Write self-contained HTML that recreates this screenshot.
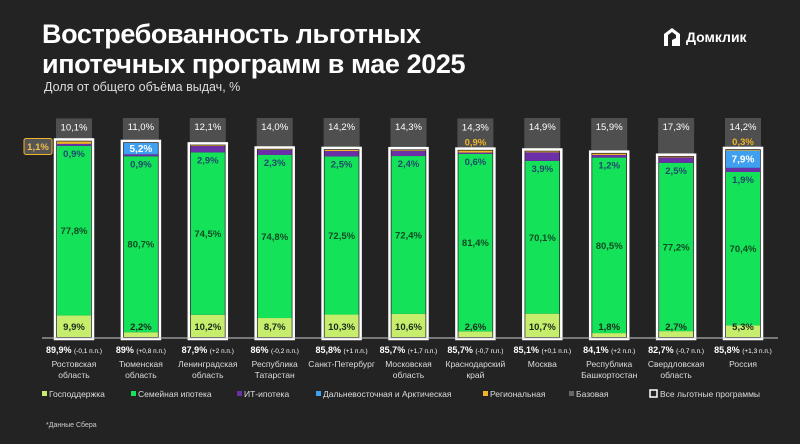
<!DOCTYPE html>
<html><head><meta charset="utf-8">
<style>
html,body{margin:0;padding:0;background:#232323;}
body{width:800px;height:444px;overflow:hidden;position:relative;font-family:"Liberation Sans","DejaVu Sans",sans-serif;color:#fff;}
.t{position:absolute;left:42px;top:19px;font-size:27px;font-weight:bold;line-height:30px;letter-spacing:-0.4px;}
.s{position:absolute;left:44px;top:80px;font-size:12.5px;color:#ddd;}
.logo{position:absolute;left:662px;top:26px;font-size:14px;font-weight:bold;display:flex;align-items:center;gap:4px;}
</style></head><body>
<div class="t">Востребованность льготных<br>ипотечных программ в мае 2025</div>
<div class="s">Доля от общего объёма выдач, %</div>
<div class="logo"><svg width="20" height="22" viewBox="0 0 20 22"><path d="M2 8 L10 2 L18 8 L18 20 L10 20 L10 14 L14 12 L14 9 L10 6 L6 9 L6 20 L2 20 Z" fill="#fff"/></svg>Домклик</div>
<svg id="chart" width="800" height="444" style="position:absolute;left:0;top:0"></svg>
<script>
const regions=[["Ростовская","область"],["Тюменская","область"],["Ленинградская","область"],["Республика","Татарстан"],["Санкт-Петербург",""],["Московская","область"],["Краснодарский","край"],["Москва",""],["Республика","Башкортостан"],["Свердловская","область"],["Россия",""]];
const totals=["89,9%","89%","87,9%","86%","85,8%","85,7%","85,7%","85,1%","84,1%","82,7%","85,8%"];
const changes=["(-0,1 п.п.)","(+0,8 п.п.)","(+2 п.п.)","(-0,2 п.п.)","(+1 п.п.)","(+1,7 п.п.)","(-0,7 п.п.)","(+0,1 п.п.)","(+2 п.п.)","(-0,7 п.п.)","(+1,3 п.п.)"];
const gos=[9.9,2.2,10.2,8.7,10.3,10.6,2.6,10.7,1.8,2.7,5.3];
const family=[77.8,80.7,74.5,74.8,72.5,72.4,81.4,70.1,80.5,77.2,70.4];
const itm=[0.9,0.9,2.9,2.3,2.5,2.4,0.6,3.9,1.2,2.5,1.9];
const fareast=[0,5.2,0,0,0,0,0,0,0,0,7.9];
const regional=[1.1,0,0.3,0.2,0.5,0.3,0.9,0.4,0.6,0.3,0.3];
const base=[10.1,11.0,12.1,14.0,14.2,14.3,14.3,14.9,15.9,17.3,14.2];
const showReg=[true,false,false,false,false,false,true,false,false,false,true];
const fmt=v=>v.toFixed(1).replace('.',',')+'%';
const svg=document.getElementById('chart');
const NS='http://www.w3.org/2000/svg';
const y0=337, k=2.18, x0=74, dx=66.9, bw=34;
const X=i=>x0+i*dx, Y=v=>y0-v*k;
function el(t,a,txt){const e=document.createElementNS(NS,t);for(const n in a)e.setAttribute(n,a[n]);if(txt!==undefined)e.textContent=txt;svg.appendChild(e);return e;}
function rect(x,y,w,h,f,name){const r=el('rect',{x:x,y:y,width:w,height:Math.max(h,0),fill:f});return r;}
function txt(x,y,s,opt,name){const t=el('text',Object.assign({x:x,y:y,'text-anchor':'middle','font-size':9.5,'font-weight':'bold',fill:'#fff','font-family':'Liberation Sans, DejaVu Sans, sans-serif'},opt),s);return t;}
const cols={gos:'#c6ee6c',fam:'#14e35a',it:'#6b2fa8',fe:'#3f9ff0',reg:'#f2b42a',base:'#4f4f4f'};
for(let i=0;i<regions.length;i++){
  const cx=X(i), l=cx-bw/2;
  let acc=0;
  const segs=[[gos[i],cols.gos,'gos'],[family[i],cols.fam,'family'],[itm[i],cols.it,'it'],[fareast[i],cols.fe,'fareast'],[regional[i],cols.reg,'regional']];
  const pos={};
  for(const [v,c,n] of segs){pos[n]=[Y(acc+v),Y(acc)];if(v>0)rect(l,Y(acc+v),bw,v*k,c,'bar-'+n+'-'+i);acc+=v;}
  const lg=acc;
  const bt=Y(lg+base[i])-1;
  rect(l-1,bt,bw+2,Y(lg)-bt-3,cols.base,'bar-base-'+i);
  txt(cx,bt+12,fmt(base[i]),{'font-weight':'normal','font-size':9.5},'label-base-'+i);
  const ob=el('rect',{x:l-2,y:Y(lg)-2,width:bw+4,height:lg*k+4,fill:'none',stroke:'#fff','stroke-width':2.5});
  
  txt(cx,y0-7,fmt(gos[i]),{fill:'#1c2a1c'},'label-gos-'+i);
  txt(cx,(pos.family[0]+pos.family[1])/2+3.5,fmt(family[i]),{fill:'#124a22'},'label-family-'+i);
  txt(cx,pos.it[1]+11,fmt(itm[i]),{fill:'#1f4a6a'},'label-it-'+i);
  if(fareast[i]>0)txt(cx,(pos.fareast[0]+pos.fareast[1])/2+3.5,fmt(fareast[i]),{'font-size':10},'label-fareast-'+i);
  if(showReg[i]){
    if(i===0){
      const cb=el('rect',{x:24,y:Y(lg)-3,width:28,height:16,rx:2,fill:'#555',stroke:'#f2b42a','stroke-width':1});
      
      txt(38,Y(lg)+8.5,fmt(regional[i]),{fill:'#f2c04a'},'label-regional-'+i);
    } else txt(cx,Y(lg)-5,fmt(regional[i]),{fill:'#f2b42a'},'label-regional-'+i);
  }
  const tl=txt(cx,353,'',{'font-size':9},'total-label-'+i);
  const a=document.createElementNS(NS,'tspan');a.textContent=totals[i]+' ';tl.appendChild(a);
  const b=document.createElementNS(NS,'tspan');b.setAttribute('font-size','6.5');b.setAttribute('font-weight','normal');b.textContent=changes[i];tl.appendChild(b);
  txt(cx,367,regions[i][0],{'font-weight':'normal','font-size':8.5,fill:'#ddd'},'region-name-'+i);
  if(regions[i][1])txt(cx,378,regions[i][1],{'font-weight':'normal','font-size':8.5,fill:'#ddd'},'region-name2-'+i);
}
const ax=el('line',{x1:42,y1:y0+1,x2:778,y2:y0+1,stroke:'#ccc','stroke-width':1});

const leg=[['Господдержка',cols.gos,42],['Семейная ипотека',cols.fam,131],['ИТ-ипотека',cols.it,237],['Дальневосточная и Арктическая',cols.fe,316],['Региональная',cols.reg,483],['Базовая','#666',569]];
for(const [n,c,x] of leg){
  rect(x,391,5,5,c,'legend-swatch-'+n);
  txt(x+7,397,n,{'text-anchor':'start','font-weight':'normal','font-size':8.5,fill:'#ddd'},'legend-entry');
}
const lb=el('rect',{x:650,y:390,width:7,height:7,fill:'none',stroke:'#fff','stroke-width':1.5});

txt(660,397,'Все льготные программы',{'text-anchor':'start','font-weight':'normal','font-size':8.5,fill:'#ddd'},'legend-entry-all');
txt(46,427,'*Данные Сбера',{'text-anchor':'start','font-weight':'normal','font-size':7,fill:'#ccc'},'footnote');
</script>
</body></html>
